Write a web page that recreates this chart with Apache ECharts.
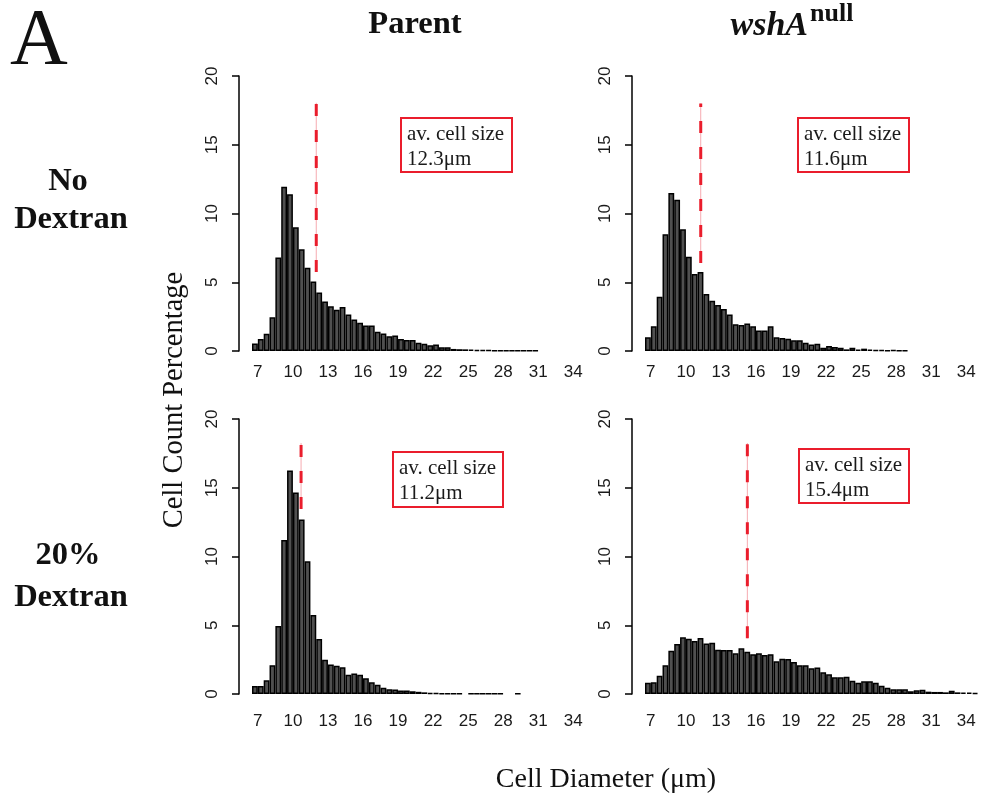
<!DOCTYPE html>
<html><head><meta charset="utf-8">
<script src="https://cdn.jsdelivr.net/npm/echarts@6/dist/echarts.min.js"></script>
<style>html,body{margin:0;padding:0;background:#fff}#c{width:981px;height:805px}</style>
</head><body><div id="c"></div><script>
// Histogram bins (left edge, µm), 0.5 µm wide
const binStarts = [6.5,7,7.5,8,8.5,9,9.5,10,10.5,11,11.5,12,12.5,13,13.5,14,14.5,15,15.5,16,16.5,17,17.5,18,18.5,19,19.5,20,20.5,21,21.5,22,22.5,23,23.5,24,24.5,25,25.5,26,26.5,27,27.5,28,28.5,29,29.5,30,30.5,31,31.5,32,32.5,33,33.5,34,34.5];
const xTickLabels = [7,10,13,16,19,22,25,28,31,34];

// Cell count percentage per bin
const parentNoDextran = [0.55,0.87,1.25,2.45,6.8,11.95,11.4,9.0,7.4,6.05,5.05,4.25,3.6,3.25,3.0,3.2,2.65,2.3,2.05,1.85,1.85,1.4,1.28,1.08,1.12,0.87,0.8,0.8,0.6,0.52,0.42,0.48,0.27,0.27,0.15,0.13,0.12,0.1,0.09,0.07,0.06,0.05,0.04,0.04,0.03,0.03,0.03,0.03,0.03];
const wshNoDextran = [1.0,1.8,3.95,8.5,11.5,11.0,8.85,6.85,5.6,5.75,4.15,3.65,3.35,3.05,2.65,1.95,1.9,2.0,1.8,1.5,1.5,1.8,1.0,0.95,0.9,0.78,0.78,0.6,0.48,0.53,0.24,0.36,0.3,0.24,0.12,0.24,0.1,0.17,0.1,0.06,0.08,0.05,0.06,0.04,0.05];
const parentDextran = [0.58,0.58,1.0,2.1,4.95,11.2,16.25,14.65,12.7,9.65,5.75,4.0,2.5,2.15,2.05,1.95,1.4,1.5,1.4,1.15,0.85,0.68,0.45,0.35,0.33,0.25,0.25,0.2,0.16,0.12,0.08,0.06,0.05,0.04,0.03,0.03,'-',0.02,0.02,0.02,0.02,0.02,0.02,'-','-',0.02];
const wshDextran = [0.82,0.85,1.33,2.1,3.15,3.64,4.12,4.02,3.85,4.07,3.68,3.73,3.22,3.2,3.2,2.96,3.32,3.08,2.9,2.96,2.84,2.9,2.38,2.57,2.55,2.33,2.1,2.1,1.87,1.92,1.58,1.43,1.21,1.21,1.26,0.97,0.82,0.92,0.92,0.82,0.6,0.46,0.34,0.34,0.34,0.2,0.27,0.31,0.17,0.15,0.15,0.12,0.24,0.12,0.1,0.1,0.07];

// average cell size labels and drawn marker line (x, y-from, y-to)
const avgLabels = ['12.3μm','11.6μm','11.2μm','15.4μm'];
const markerX = [12.0, 11.27, 10.7, 15.26];
const markerLow = [5.75, 6.4, 13.45, 4.05];
const markerHigh = [18.05, 18.0, 18.25, 18.25];

const panelData = [parentNoDextran, wshNoDextran, parentDextran, wshDextran];

const gridPos = [[252,76],[645,76],[252,419],[645,419]];
const boxPos = [[401,118,111,54],[798,118,111,54],[393,452,110,55],[799,449,110,54]];

const chart = echarts.init(document.getElementById('c'), null, {renderer:'canvas'});
const SANS = 'Liberation Sans, Arial, sans-serif';
const SERIF = 'Liberation Serif, Times New Roman, serif';
const RED = '#ea1d2c';

const grid=[], xAxis=[], yAxis=[], series=[], graphic=[];
panelData.forEach((d,i)=>{
  grid.push({left:gridPos[i][0], top:gridPos[i][1], width:333, height:275, containLabel:false});
  xAxis.push({type:'category', gridIndex:i, data:binStarts, show:false, position:'top', boundaryGap:true});
  xAxis.push({type:'value', gridIndex:i, position:'bottom', min:6.5, max:35,
    axisLine:{show:false}, axisTick:{show:false}, splitLine:{show:false},
    axisLabel:{customValues:xTickLabels, margin: i<2?13:19, fontSize:17, color:'#1a1a1a', fontFamily:SANS}});
  yAxis.push({type:'value', gridIndex:i, min:0, max:20, interval:5, offset:13,
    axisLine:{show:true, lineStyle:{color:'#000', width:1.5}},
    axisTick:{show:true, length:7, lineStyle:{color:'#000', width:1.5}},
    axisLabel:{rotate:90, margin:18, fontSize:17, color:'#1a1a1a', fontFamily:SANS},
    splitLine:{show:false}});
  series.push({type:'bar', xAxisIndex:2*i, yAxisIndex:i, data:d, barCategoryGap:'0%', silent:true,
    itemStyle:{color:'#505050', borderColor:'#000', borderWidth:1.5}});
  const seg = [[markerX[i], markerLow[i]],[markerX[i], markerHigh[i]]];
  series.push({type:'line', xAxisIndex:2*i+1, yAxisIndex:i, data:seg, symbol:'none', silent:true,
    lineStyle:{color:'#f6aab0', width:1}});
  series.push({type:'line', xAxisIndex:2*i+1, yAxisIndex:i, data:seg, symbol:'none', silent:true,
    lineStyle:{color:RED, width:3, type:[12,14]}});
  const b = boxPos[i];
  graphic.push({type:'rect', shape:{x:b[0], y:b[1], width:b[2], height:b[3]},
    style:{fill:'#fff', stroke:RED, lineWidth:2}, z:10});
  graphic.push({type:'text', x:b[0]+6, y:b[1]+3.5, z:11,
    style:{text:'av. cell size\n'+avgLabels[i], font:'21px '+SERIF, fill:'#1a1a1a', lineHeight:25, textAlign:'left', textVerticalAlign:'top'}});
});

graphic.push({type:'text', x:39, y:43, style:{text:'A', font:'80px '+SERIF, fill:'#111', textAlign:'center', textVerticalAlign:'middle'}});
graphic.push({type:'text', x:415, y:25, style:{text:'Parent', font:'bold 32.5px '+SERIF, fill:'#111', textAlign:'center', textVerticalAlign:'middle'}});
graphic.push({type:'text', x:808, y:26, style:{text:'wshA', font:'italic bold 34px '+SERIF, fill:'#111', textAlign:'right', textVerticalAlign:'middle'}});
graphic.push({type:'text', x:810, y:14, style:{text:'null', font:'bold 26px '+SERIF, fill:'#111', textAlign:'left', textVerticalAlign:'middle'}});
graphic.push({type:'text', x:68, y:182, style:{text:'No', font:'bold 32.5px '+SERIF, fill:'#111', textAlign:'center', textVerticalAlign:'middle'}});
graphic.push({type:'text', x:71, y:220, style:{text:'Dextran', font:'bold 32.5px '+SERIF, fill:'#111', textAlign:'center', textVerticalAlign:'middle'}});
graphic.push({type:'text', x:68, y:556, style:{text:'20%', font:'bold 32.5px '+SERIF, fill:'#111', textAlign:'center', textVerticalAlign:'middle'}});
graphic.push({type:'text', x:71, y:598, style:{text:'Dextran', font:'bold 32.5px '+SERIF, fill:'#111', textAlign:'center', textVerticalAlign:'middle'}});
graphic.push({type:'text', x:175, y:400, rotation:Math.PI/2, style:{text:'Cell Count Percentage', font:'28.5px '+SERIF, fill:'#111', textAlign:'center', textVerticalAlign:'middle'}});
graphic.push({type:'text', x:606, y:780, style:{text:'Cell Diameter (μm)', font:'28px '+SERIF, fill:'#111', textAlign:'center', textVerticalAlign:'middle'}});

chart.setOption({animation:false, backgroundColor:'#fff', grid, xAxis, yAxis, series, graphic});
</script></body></html>
